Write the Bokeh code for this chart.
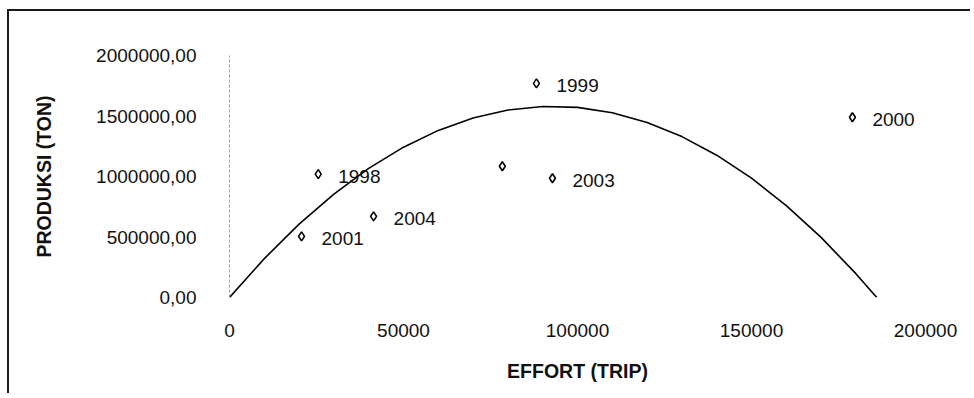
from bokeh.plotting import figure
from bokeh.models import ColumnDataSource, FixedTicker, Range1d
from bokeh.core.properties import value
from bokeh.embed import file_html
from bokeh.resources import INLINE

# observed data (effort in trips, production in tons)
years = ["1998", "1999", "2000", "2001", "2002", "2003", "2004"]
point_labels = ["1998", "1999", "2000", "2001", "", "2003", "2004"]
effort = [25500, 88200, 179000, 20700, 78400, 92800, 41400]
produksi = [1020000, 1770000, 1490000, 505000, 1085000, 985000, 670000]

# fitted (Schaefer) curve
curve_effort = [0, 10000, 20000, 30000, 40000, 50000, 60000, 70000, 80000, 90000,
                100000, 110000, 120000, 130000, 140000, 150000, 160000, 170000,
                180000, 186000]
curve_produksi = [0, 321500, 606500, 855000, 1066900, 1242250, 1381080, 1483370,
                  1549120, 1578330, 1571000, 1527130, 1446720, 1329770, 1176280,
                  986250, 759680, 496570, 196920, 0]

x_ticks = [0, 50000, 100000, 150000, 200000]
x_tick_labels = ["0", "50000", "100000", "150000", "200000"]
y_ticks = [0, 500000, 1000000, 1500000, 2000000]
y_tick_labels = ["0,00", "500000,00", "1000000,00", "1500000,00", "2000000,00"]

FONT = "Liberation Sans"

p = figure(width=963, height=384, output_backend="svg", toolbar_location=None,
           x_range=Range1d(0, 200000), y_range=Range1d(0, 2000000),
           min_border_left=220, min_border_right=47, min_border_top=44,
           min_border_bottom=98)
p.styles = {"border-left": "2px solid #1a1a1a", "border-top": "2px solid #1a1a1a",
            "position": "relative", "left": "7px", "top": "9px"}
p.grid.visible = False
p.outline_line_color = None
p.background_fill_color = "white"
p.border_fill_color = "white"

p.xaxis.ticker = FixedTicker(ticks=x_ticks)
p.xaxis.major_label_overrides = {t: s for t, s in zip(x_ticks, x_tick_labels)}
p.yaxis.ticker = FixedTicker(ticks=y_ticks)
p.yaxis.major_label_overrides = {t: s for t, s in zip(y_ticks, y_tick_labels)}

for ax in (p.xaxis[0], p.yaxis[0]):
    ax.major_tick_in = 0
    ax.major_tick_out = 0
    ax.minor_tick_line_color = None
    ax.major_label_text_font = FONT
    ax.major_label_text_font_size = "19px"
    ax.major_label_text_color = "#111111"
    ax.axis_label_text_font = FONT
    ax.axis_label_text_font_size = "19.5px"
    ax.axis_label_text_font_style = "bold"
    ax.axis_label_text_color = "#111111"

p.xaxis.axis_line_color = None
p.xaxis.major_label_standoff = 26
p.xaxis.axis_label = "EFFORT (TRIP)"
p.xaxis.axis_label_standoff = 20

p.yaxis.axis_line_color = "#9a9a9a"
p.yaxis.axis_line_dash = "3 2"
p.yaxis.axis_line_width = 1
p.yaxis.major_label_standoff = 33
p.yaxis.axis_label = "PRODUKSI (TON)"
p.yaxis.axis_label_standoff = 38

p.line(curve_effort, curve_produksi, line_color="black", line_width=1.6)

src = ColumnDataSource(dict(x=effort, y=produksi, label=point_labels, year=years))
p.scatter("x", "y", source=src, marker="diamond", size=9, fill_color="white",
          line_color="black", line_width=1.6)
p.text("x", "y", text="label", source=src, x_offset=20, y_offset=2,
       text_font=value(FONT), text_font_size="19px", text_baseline="middle",
       text_align="left", text_color="#111111")

open("out.html", "w").write(file_html(p, INLINE))
